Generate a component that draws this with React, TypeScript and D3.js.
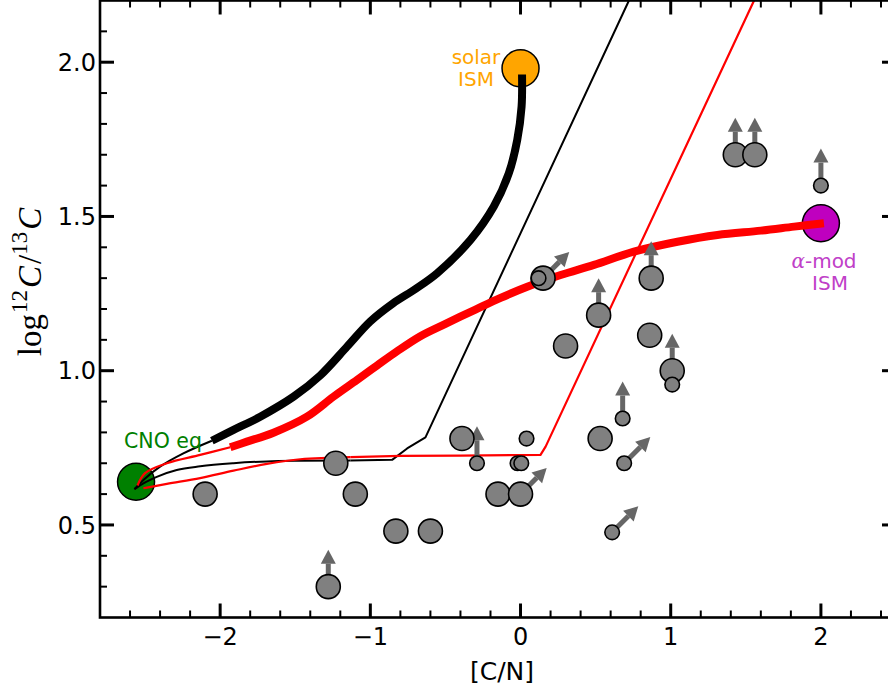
import React from "react";
import * as d3 from "d3";

// ---------- data ----------
const xMajorTicks = [-2, -1, 0, 1, 2];
const yMajorTicks = [0.5, 1.0, 1.5, 2.0];

// thick black track: solar ISM -> CNO eq (ascending [C/N])
const blackThickX = [-2.055, -1.911, -1.733, -1.511, -1.333, -1.155, -1.0, -0.85, -0.7, -0.555, -0.333, -0.178, -0.078, -0.022, 0.007, 0.01];
const blackThickY = [0.773, 0.808, 0.851, 0.916, 0.985, 1.078, 1.16, 1.218, 1.265, 1.316, 1.424, 1.532, 1.640, 1.748, 1.856, 1.96];
const blackThinX = [-2.571, -2.511, -2.4, -2.245, -2.055];
const blackThinY = [0.616, 0.646, 0.689, 0.732, 0.773];

// thick red track: alpha-mod ISM -> CNO eq
const redThickX = [-1.933, -1.822, -1.645, -1.422, -1.245, -1.089, -0.955, -0.822, -0.667, -0.5, -0.3, -0.133, 0.045, 0.267, 0.489, 0.755, 1.045, 1.311, 1.6, 1.822, 2.02];
const redThickY = [0.752, 0.770, 0.799, 0.851, 0.916, 0.970, 1.017, 1.063, 1.112, 1.152, 1.198, 1.236, 1.272, 1.310, 1.343, 1.386, 1.418, 1.440, 1.454, 1.467, 1.478];
const redThinX = [-2.55, -2.5, -2.355, -2.133, -1.933];
const redThinY = [0.628, 0.668, 0.700, 0.727, 0.752];

// thin plateau tracks (smooth start, then straight segments from index *Split)
const blackFlatX = [-2.571, -2.511, -2.422, -2.289, -2.133, -1.911, -1.689, -1.467, -1.133, -0.855, -0.755, -0.633, 0.722, 0.75];
const blackFlatY = [0.616, 0.635, 0.656, 0.678, 0.690, 0.700, 0.706, 0.708, 0.709, 0.711, 0.748, 0.784, 2.2, 2.26];
const blackFlatSplit = 8;
const redFlatX = [-2.511, -2.355, -2.133, -1.911, -1.689, -1.467, -1.133, -0.8, -0.4, 0.133, 0.167, 1.555, 1.58];
const redFlatY = [0.619, 0.633, 0.652, 0.676, 0.698, 0.713, 0.720, 0.724, 0.725, 0.727, 0.754, 2.2, 2.25];
const redFlatSplit = 6;

// reference compositions
const refX = [-2.56, 0.0, 2.0];
const refY = [0.64, 1.98, 1.478];
const refColors = ["#008000", "#ffa500", "#bf00bf"];

// observed stars
const starX = [-2.10, -1.23, -1.10, -0.83, -0.60, -1.28, -0.39, -0.29, 0.04, -0.02, 0.005, -0.15, 0.00, 0.30, 0.52, 0.53, 0.68, 0.69, 0.61, 0.87, 0.86, 1.01, 1.01, 1.43, 1.56, 2.00, 0.15, 0.12];
const starY = [0.60, 0.70, 0.60, 0.48, 0.48, 0.30, 0.78, 0.70, 0.78, 0.70, 0.70, 0.60, 0.60, 1.08, 1.18, 0.78, 0.845, 0.70, 0.476, 1.30, 1.115, 1.00, 0.955, 1.70, 1.70, 1.60, 1.30, 1.30];
const starSize = ["L", "L", "L", "L", "L", "L", "L", "S", "S", "S", "S", "L", "L", "L", "L", "L", "S", "S", "S", "L", "L", "L", "S", "L", "L", "S", "L", "S"];
const starArrow = ["", "", "", "", "", "up", "", "up", "", "", "", "", "diag", "", "up", "", "up", "diag", "diag", "up", "", "up", "", "up", "up", "up", "diag", ""];

// ---------- layout ----------
const W = 888, H = 690;
const L = 100, R = 896, T = 0.5, B = 617.5;
const x = d3.scaleLinear().domain([-2.8, 2.5]).range([L, R]);
const y = d3.scaleLinear().domain([0.2, 2.2]).range([B, T]);
const FONT = "DejaVu Sans, Verdana, sans-serif";

const zip = (xs: number[], ys: number[]) => xs.map((v, i) => [v, ys[i]] as [number, number]);
const smooth = d3.line<[number, number]>().x(d => x(d[0])).y(d => y(d[1])).curve(d3.curveCatmullRom.alpha(0.5));
const mono = d3.line<[number, number]>().x(d => x(d[0])).y(d => y(d[1])).curve(d3.curveMonotoneX);
const lin = d3.line<[number, number]>().x(d => x(d[0])).y(d => y(d[1]));

function range(a: number, b: number, s: number) {
  const out: number[] = [];
  for (let v = a; v <= b + 1e-9; v += s) out.push(Math.round(v * 1000) / 1000);
  return out;
}

export default function App() {
  const xMinor = range(-2.8, 2.5, 0.2).filter(v => !xMajorTicks.some(m => Math.abs(m - v) < 1e-6));
  const yMinor = range(0.3, 2.1, 0.1).filter(v => !yMajorTicks.some(m => Math.abs(m - v) < 1e-6));
  const arrowLen = 37;
  const bf = zip(blackFlatX, blackFlatY);
  const rf = zip(redFlatX, redFlatY);

  return (
    <svg width={W} height={H} style={{ position: "absolute", left: 0, top: 0, background: "#fff" }}>
      <defs>
        <clipPath id="plot">
          <rect x={L} y={T} width={R - L} height={B - T} />
        </clipPath>
      </defs>

      {/* reference circles */}
      {refX.map((v, i) => (
        <circle key={"ref" + i} cx={x(v)} cy={y(refY[i])} r={18.5} fill={refColors[i]} stroke="#000" strokeWidth={1.5} />
      ))}

      <g clipPath="url(#plot)" fill="none" strokeLinejoin="round">
        <path d={mono(bf.slice(0, blackFlatSplit + 1)) || ""} stroke="#000" strokeWidth={2} />
        <path d={lin(bf.slice(blackFlatSplit)) || ""} stroke="#000" strokeWidth={2} />
        <path d={mono(rf.slice(0, redFlatSplit + 1)) || ""} stroke="#ff0000" strokeWidth={2.2} />
        <path d={lin(rf.slice(redFlatSplit)) || ""} stroke="#ff0000" strokeWidth={2.2} />
        <path d={smooth(zip(blackThinX, blackThinY)) || ""} stroke="#000" strokeWidth={2} />
        <path d={smooth(zip(redThinX, redThinY)) || ""} stroke="#ff0000" strokeWidth={2.2} />
        <path d={smooth(zip(blackThickX, blackThickY)) || ""} stroke="#000" strokeWidth={8} strokeLinecap="butt" />
        <path d={smooth(zip(redThickX, redThickY)) || ""} stroke="#ff0000" strokeWidth={8} strokeLinecap="butt" />
      </g>

      {/* arrows */}
      {starX.map((v, i) => {
        const a = starArrow[i];
        if (!a) return null;
        const cx = x(v), cy = y(starY[i]);
        const ang = a === "up" ? -Math.PI / 2 : -Math.PI / 4;
        const ux = Math.cos(ang), uy = Math.sin(ang);
        const tipX = cx + ux * arrowLen, tipY = cy + uy * arrowLen;
        const hl = 14, hw = 7.5;
        const bx = tipX - ux * hl, by = tipY - uy * hl;
        const px = -uy, py = ux;
        return (
          <g key={"ar" + i} fill="#666666" stroke="none">
            <line x1={cx} y1={cy} x2={bx} y2={by} stroke="#666666" strokeWidth={5} />
            <polygon points={`${tipX},${tipY} ${bx + px * hw},${by + py * hw} ${bx - px * hw},${by - py * hw}`} />
          </g>
        );
      })}

      {/* star circles */}
      {starX.map((v, i) => (
        <circle key={"st" + i} cx={x(v)} cy={y(starY[i])} r={starSize[i] === "L" ? 12 : 7.3} fill="#808080" stroke="#000" strokeWidth={1.6} />
      ))}

      {/* labels */}
      <text x={163} y={448} fontFamily={FONT} fontSize={20.5} fill="#008000" textAnchor="middle">CNO eq</text>
      <text x={476} y={64} fontFamily={FONT} fontSize={20} fill="#ffa500" textAnchor="middle">solar</text>
      <text x={476} y={86} fontFamily={FONT} fontSize={20} fill="#ffa500" textAnchor="middle">ISM</text>
      <text x={824} y={268} fontFamily={FONT} fontSize={20} fill="#c040c8" textAnchor="middle">
        <tspan fontFamily="DejaVu Serif, serif" fontStyle="italic">α</tspan>-mod
      </text>
      <text x={830} y={290} fontFamily={FONT} fontSize={20} fill="#c040c8" textAnchor="middle">ISM</text>

      {/* frame */}
      <rect x={L} y={T} width={R - L} height={B - T} fill="none" stroke="#000" strokeWidth={2.6} />

      {/* ticks */}
      <g stroke="#000">
        {xMajorTicks.map(v => (
          <g key={"xM" + v}>
            <line x1={x(v)} x2={x(v)} y1={B} y2={B - 14} strokeWidth={3} />
            <line x1={x(v)} x2={x(v)} y1={T} y2={T + 14} strokeWidth={3} />
          </g>
        ))}
        {xMinor.map(v => (
          <g key={"xm" + v}>
            <line x1={x(v)} x2={x(v)} y1={B} y2={B - 7} strokeWidth={2} />
            <line x1={x(v)} x2={x(v)} y1={T} y2={T + 7} strokeWidth={2} />
          </g>
        ))}
        {yMajorTicks.map(v => (
          <g key={"yM" + v}>
            <line x1={L} x2={L + 14} y1={y(v)} y2={y(v)} strokeWidth={3} />
            <line x1={R} x2={R - 14} y1={y(v)} y2={y(v)} strokeWidth={3} />
          </g>
        ))}
        {yMinor.map(v => (
          <g key={"ym" + v}>
            <line x1={L} x2={L + 7} y1={y(v)} y2={y(v)} strokeWidth={2} />
            <line x1={R} x2={R - 7} y1={y(v)} y2={y(v)} strokeWidth={2} />
          </g>
        ))}
      </g>

      {/* tick labels */}
      {xMajorTicks.map(v => (
        <text key={"xl" + v} x={x(v)} y={645} fontFamily={FONT} fontSize={24} textAnchor="middle" fill="#000">
          {d3.format("d")(v)}
        </text>
      ))}
      {yMajorTicks.map(v => (
        <text key={"yl" + v} x={96} y={y(v) + 8.7} fontFamily={FONT} fontSize={24} textAnchor="end" fill="#000">
          {d3.format(".1f")(v)}
        </text>
      ))}

      {/* axis titles */}
      <text x={502} y={680} fontFamily={FONT} fontSize={25} textAnchor="middle" fill="#000">[C/N]</text>
      <text transform="translate(41,282) rotate(-90)" fontFamily="Liberation Serif, DejaVu Serif, serif" fontSize={33} textAnchor="middle" fill="#000">
        <tspan>log</tspan>
        <tspan fontSize={23} dy={-14} dx={1}>12</tspan>
        <tspan fontStyle="italic" dy={14} dx={2}>C</tspan>
        <tspan dx={2}>/</tspan>
        <tspan fontSize={23} dy={-14}>13</tspan>
        <tspan fontStyle="italic" dy={14} dx={2}>C</tspan>
      </text>
    </svg>
  );
}
